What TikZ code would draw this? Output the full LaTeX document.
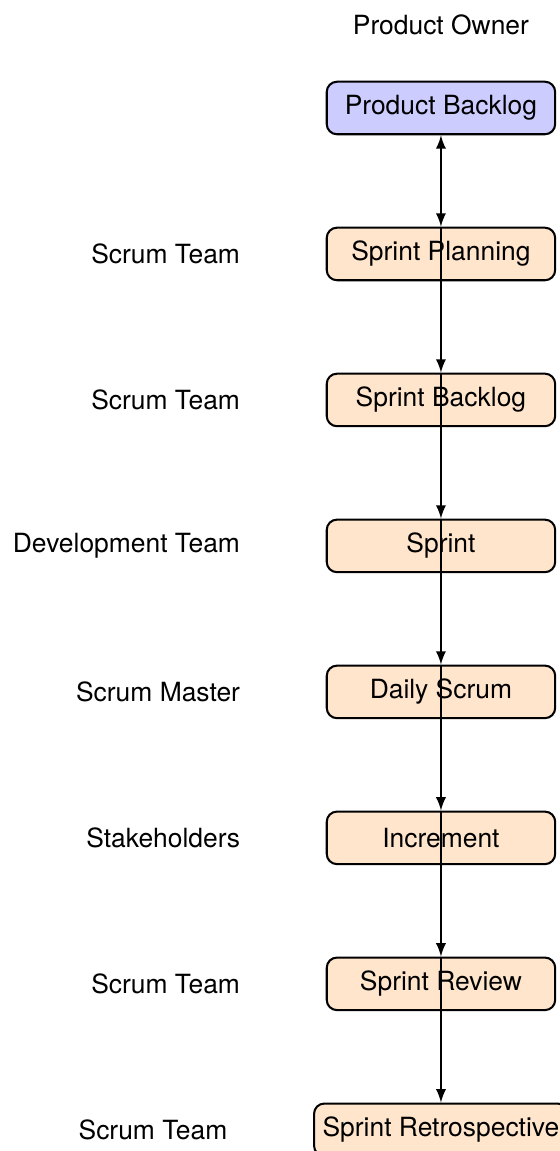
\documentclass[tikz,border=0pt]{standalone}
\usepackage{fontspec}
\setmainfont{TeX Gyre Heros}
\usetikzlibrary{positioning}

\tikzset{
  artefact/.style={draw, thick, rounded corners=4pt, minimum width=3.13cm,
    minimum height=0.72cm, fill=orange!20},
  flow/.style={thick, -latex},
}

\begin{document}
\begin{tikzpicture}[font=\fontsize{10.3pt}{12.4pt}\selectfont]

\useasboundingbox (-171.9pt,-406.6pt) rectangle (46.4pt,42.1pt);

%Shape: Rectangles (artefacts and events)
\node [artefact, fill=blue!20] (pbacklog) at (0,0) {Product Backlog};
\node [artefact] (planning) at (0,-2) {Sprint Planning};
\node [artefact] (sbacklog) at (0,-4) {Sprint Backlog};
\node [artefact] (sprint) at (0,-6) {Sprint};
\node [artefact] (daily) at (0,-8) {Daily Scrum};
\node [artefact] (increment) at (0,-10) {Increment};
\node [artefact] (review) at (0,-12) {Sprint Review};
\node [artefact] (retro) at (0,-14) {Sprint Retrospective};

%Text: roles
\node [above=0.5cm of pbacklog] (owner) {Product Owner};
\node [left=1.05cm of planning] (teamA) {Scrum Team};
\node [left=1.05cm of sbacklog] (teamB) {Scrum Team};
\node [left=1.05cm of sprint] (devteam) {Development Team};
\node [left=1.05cm of daily] (master) {Scrum Master};
\node [left=1.05cm of increment] (stakeholders) {Stakeholders};
\node [left=1.05cm of review] (teamC) {Scrum Team};
\node [left=1.05cm of retro] (teamD) {Scrum Team};

%Straight Lines
\draw [thick, latex-latex] (pbacklog.south) -- (planning.north);
\draw [flow] (planning.north) -- (sbacklog.north);
\draw [flow] (sbacklog.north) -- (sprint.north);
\draw [flow] (sprint.north) -- (daily.north);
\draw [flow] (daily.north) -- (increment.north);
\draw [flow] (increment.north) -- (review.north);
\draw [flow] (review.north) -- (retro.north);

\end{tikzpicture}
\end{document}
